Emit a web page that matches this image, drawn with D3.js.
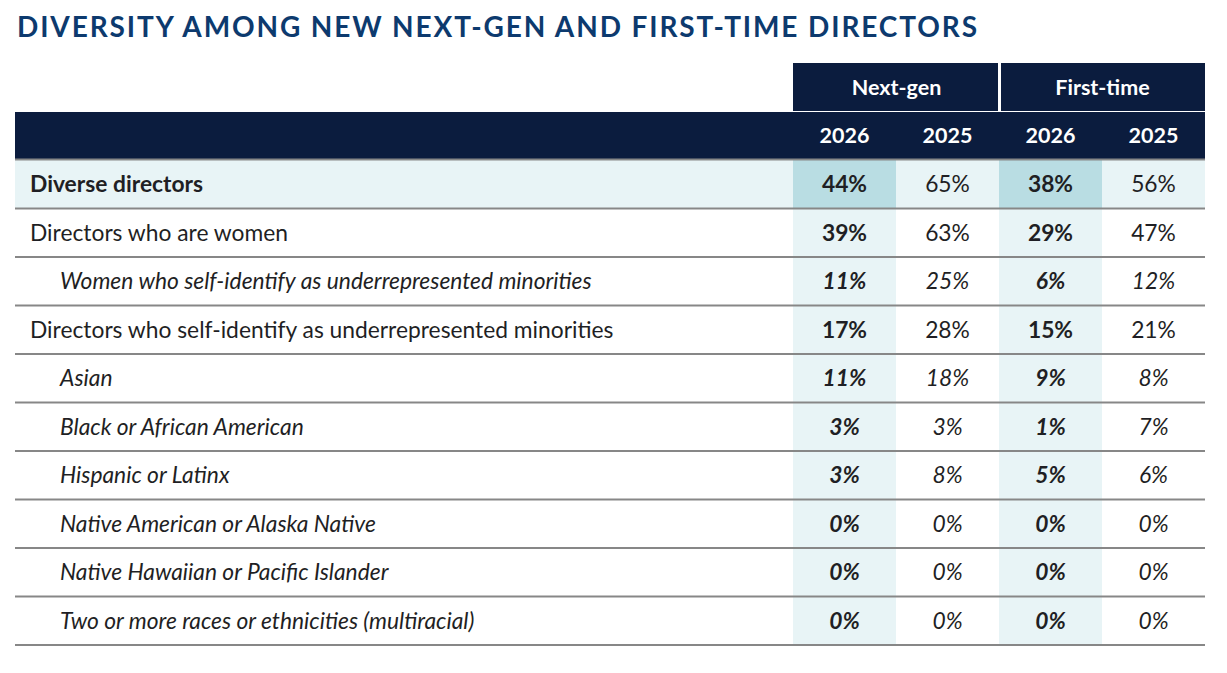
<!DOCTYPE html>
<html>
<head>
<meta charset="utf-8">
<script src="https://cdn.jsdelivr.net/npm/d3@7"></script>
<style>
  html, body { margin: 0; padding: 0; background: #fff; }
  svg { display: block; font-family: Lato, "Open Sans", sans-serif; }
</style>
</head>
<body>
<svg id="chart" width="1227" height="673"></svg>
<script>
// ---- data ----
const title = "DIVERSITY AMONG NEW NEXT-GEN AND FIRST-TIME DIRECTORS";
const groups = ["Next-gen", "First-time"];
const years = ["2026", "2025"];
const labels = [
  "Diverse directors",
  "Directors who are women",
  "Women who self-identify as underrepresented minorities",
  "Directors who self-identify as underrepresented minorities",
  "Asian",
  "Black or African American",
  "Hispanic or Latinx",
  "Native American or Alaska Native",
  "Native Hawaiian or Pacific Islander",
  "Two or more races or ethnicities (multiracial)"
];
const subRow = [false, false, true, false, true, true, true, true, true, true];
const nextGen2026 = [44, 39, 11, 17, 11, 3, 3, 0, 0, 0];
const nextGen2025 = [65, 63, 25, 28, 18, 3, 8, 0, 0, 0];
const firstTime2026 = [38, 29, 6, 15, 9, 1, 5, 0, 0, 0];
const firstTime2025 = [56, 47, 12, 21, 8, 7, 6, 0, 0, 0];

const columns = [
  { key: "ng26", group: 0, year: 0, values: nextGen2026 },
  { key: "ng25", group: 0, year: 1, values: nextGen2025 },
  { key: "ft26", group: 1, year: 0, values: firstTime2026 },
  { key: "ft25", group: 1, year: 1, values: firstTime2025 }
];

// ---- layout ----
const navy = "#0b1c3e";
const titleBlue = "#0d3a6e";
const textCol = "#1f1f24";
const lightBg = "#e8f4f6";
const darkBg = "#b9dde3";
const lineCol = "#878787";

const svg = d3.select("#chart");
const tableLeft = 15, tableRight = 1205;

const x = d3.scaleBand().domain(columns.map(c => c.key)).range([793, 1205]);
const y = d3.scaleBand().domain(labels).range([160, 645]);

// title
svg.append("text")
  .attr("x", 17).attr("y", 37)
  .attr("fill", titleBlue)
  .attr("font-size", 28)
  .attr("font-weight", 700)
  .attr("textLength", 960)
  .attr("lengthAdjust", "spacing")
  .text(title);

// group header boxes
const gx = g => [x(columns[g * 2].key), x(columns[g * 2 + 1].key) + x.bandwidth()];
groups.forEach((g, i) => {
  const [x0, x1] = gx(i);
  svg.append("rect")
    .attr("x", x0 + (i === 1 ? 2 : 0)).attr("y", 63)
    .attr("width", x1 - x0 - (i === 1 ? 2 : 1)).attr("height", 48)
    .attr("fill", navy);
  svg.append("text")
    .attr("x", (x0 + x1) / 2 + 0.5).attr("y", 95)
    .attr("text-anchor", "middle")
    .attr("fill", "#fff")
    .attr("font-size", 21.5).attr("font-weight", 700)
    .text(g);
});

// header bar
svg.append("rect")
  .attr("x", tableLeft).attr("y", 112)
  .attr("width", tableRight - tableLeft).attr("height", 47)
  .attr("fill", navy);
columns.forEach(c => {
  svg.append("text")
    .attr("x", x(c.key) + x.bandwidth() / 2).attr("y", 143)
    .attr("text-anchor", "middle")
    .attr("fill", "#fff")
    .attr("font-size", 21.5).attr("font-weight", 700)
    .text(years[c.year]);
});

// row backgrounds
svg.append("rect")
  .attr("x", tableLeft).attr("y", y(labels[0]))
  .attr("width", tableRight - tableLeft).attr("height", y.bandwidth())
  .attr("fill", lightBg);

columns.filter(c => c.year === 0).forEach(c => {
  svg.selectAll(null)
    .data(labels)
    .enter().append("rect")
    .attr("x", x(c.key)).attr("y", d => y(d))
    .attr("width", x.bandwidth()).attr("height", y.bandwidth())
    .attr("fill", (d, i) => i === 0 ? darkBg : lightBg);
});

// row lines
svg.append("line")
  .attr("x1", tableLeft).attr("x2", tableRight)
  .attr("y1", 159.5).attr("y2", 159.5)
  .attr("stroke", lineCol).attr("stroke-width", 2);
svg.selectAll(null)
  .data(labels)
  .enter().append("line")
  .attr("x1", tableLeft).attr("x2", tableRight)
  .attr("y1", d => y(d) + y.bandwidth())
  .attr("y2", d => y(d) + y.bandwidth())
  .attr("stroke", lineCol).attr("stroke-width", 2);

// row labels
svg.selectAll(null)
  .data(labels)
  .enter().append("text")
  .attr("x", (d, i) => subRow[i] ? 60 : 30)
  .attr("y", d => y(d) + y.bandwidth() / 2 + 8)
  .attr("fill", textCol)
  .attr("font-size", 22.8)
  .attr("font-weight", (d, i) => i === 0 ? 700 : 400)
  .attr("font-style", (d, i) => subRow[i] ? "italic" : "normal")
  .text(d => d);

// values
columns.forEach(c => {
  svg.selectAll(null)
    .data(c.values)
    .enter().append("text")
    .attr("x", x(c.key) + x.bandwidth() / 2)
    .attr("y", (d, i) => y(labels[i]) + y.bandwidth() / 2 + 8)
    .attr("text-anchor", "middle")
    .attr("fill", textCol)
    .attr("font-size", 22.8)
    .attr("font-weight", c.year === 0 ? 700 : 400)
    .attr("font-style", (d, i) => subRow[i] ? "italic" : "normal")
    .text(d => d + "%");
});
</script>
</body>
</html>
